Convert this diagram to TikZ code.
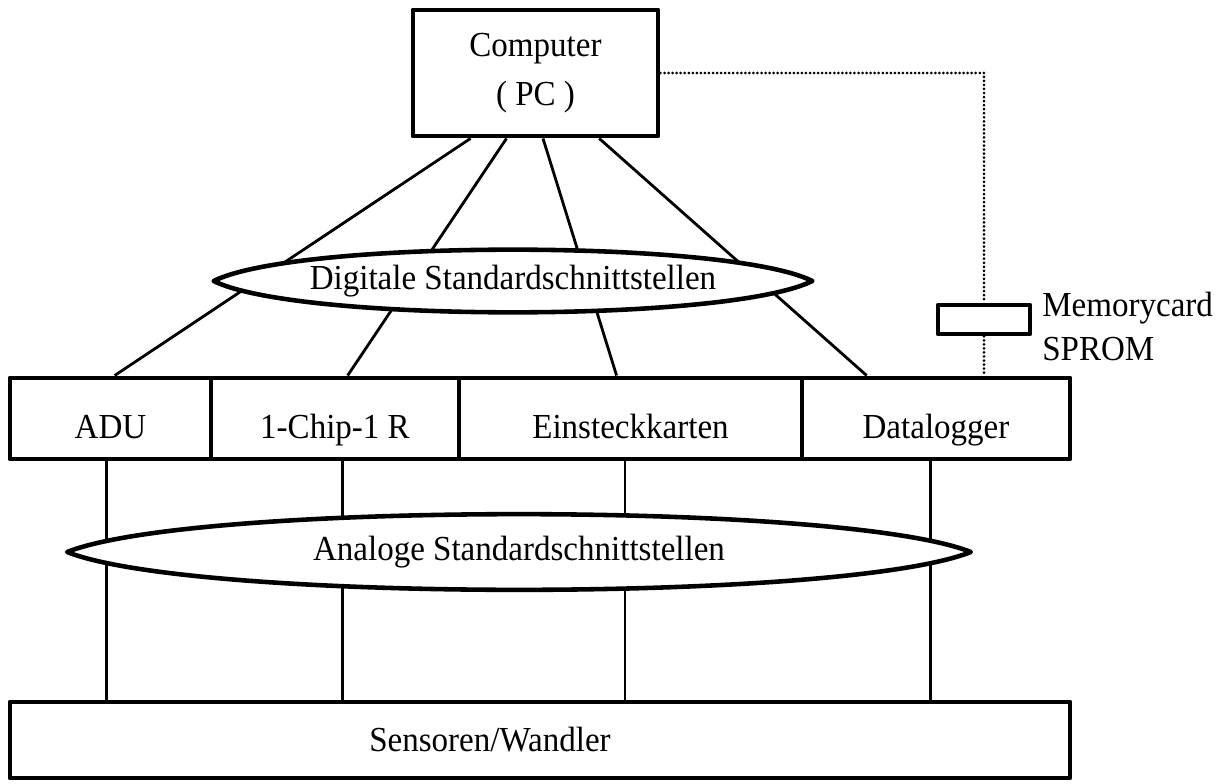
\documentclass[tikz,border=0pt]{standalone}
\usepackage{fontspec}
\setmainfont{Liberation Serif}[FakeStretch=0.94]
\usetikzlibrary{calc,shapes.geometric}
\tikzset{
  every picture/.style={font=\fontsize{20}{24}\selectfont, line join=round},
  box/.style={draw, line width=2.8pt, minimum height=1.62cm, inner sep=0pt},
  cell/.style={box, text height=0.9cm, text depth=0.1cm},
  oval/.style={ellipse, inner sep=0pt},
  lens/.style={fill=white, line width=2.6pt},
  link/.style={line width=1.6pt},
  dots/.style={line width=1.7pt, dash pattern=on 0pt off 2.3pt, line cap=round},
}
\begin{document}
\begin{tikzpicture}
\useasboundingbox (0,0) rectangle (24.5,15.66);
% Rechner
\node[box, minimum width=4.9cm, minimum height=2.52cm, align=center, font=\fontsize{20}{28}\selectfont] (pc) at (10.71,14.20) {Computer\\( PC )};
% Karten/Geraete
\node[cell, minimum width=4.02cm] (adu) at (2.21,7.29) {ADU};
\node[cell, minimum width=4.96cm] (chip) at (6.70,7.29) {1-Chip-1 R};
\node[cell, minimum width=6.86cm] (eins) at (12.61,7.29) {Einsteckkarten};
\node[cell, minimum width=5.36cm] (dlog) at (18.72,7.29) {Datalogger};
% Sensorik
\node[box, minimum width=21.2cm, minimum height=1.52cm] (sen) at (10.8,0.86) {};
\node (sentxt) at (9.8,0.86) {Sensoren/Wandler};
% Speicherkarte
\node[draw, line width=2.6pt, minimum width=1.84cm, minimum height=0.58cm, inner sep=0pt] (card) at (19.68,9.27) {};
\node[anchor=west, align=left, inner sep=0pt, font=\fontsize{20}{24.5}\selectfont] (cardtxt) at (20.84,9.13) {Memorycard\\SPROM};

\foreach \s/\n/\f in {0.24/adu/0.52, 0.384/chip/0.55, 0.53/eins/0.46, 0.755/dlog/0.246}
  \draw[link] ($(pc.south west)!\s!(pc.south east)$) -- ($(\n.north west)!\f!(\n.north east)$);
\foreach \n/\f in {adu/0.48, chip/0.53, eins/0.484, dlog/0.48}
  \draw[link] ($(\n.south west)!\f!(\n.south east)$) coordinate (v) -- (v |- sen.north);

\draw[dots] (pc.east) -| (card.north);
\draw[dots] (card.south) -- (card.south |- dlog.north);

% Schnittstellen (spitze Ellipsen)
\node[oval, minimum width=11.96cm, minimum height=1.24cm] (dig) at (10.26,10.04) {};
\node[oval, minimum width=18.06cm, minimum height=1.5cm] (ana) at (10.38,4.62) {};
\foreach \o in {dig,ana} {
  \path ($(\o.west)!0.14!(\o.east)$) coordinate (l)
        ($(\o.west)!0.86!(\o.east)$) coordinate (r)
        ($(\o.center)!1.333!(\o.north)$) coordinate (t)
        ($(\o.center)!1.333!(\o.south)$) coordinate (b);
  \filldraw[lens] (\o.west) .. controls (l |- t) and (r |- t) .. (\o.east)
                            .. controls (r |- b) and (l |- b) .. cycle;
}
\node (diglbl) at (dig) {Digitale Standardschnittstellen};
\node (analbl) at (ana) {Analoge Standardschnittstellen};
\end{tikzpicture}
\end{document}
